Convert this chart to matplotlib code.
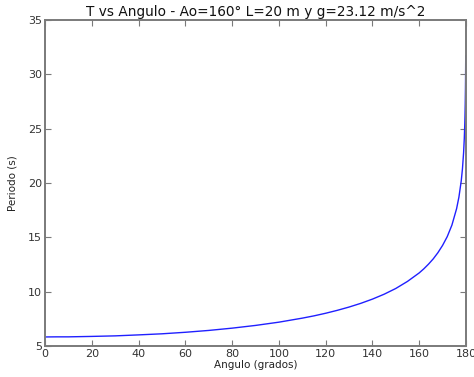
import matplotlib
matplotlib.use("Agg")
import matplotlib.pyplot as plt

# --- DATA ---
angulo = [0, 5, 10, 15, 20, 30, 40, 50, 60, 70, 80, 90, 100, 110, 115, 120,
          125, 130, 135, 140, 145, 150, 155, 160, 162, 164, 166, 168, 170,
          172, 174, 176, 177, 178, 178.5, 179, 179.3, 179.5, 179.6, 179.7,
          179.8, 179.85, 179.9, 179.91]
periodo = [5.84, 5.85, 5.85, 5.87, 5.89, 5.94, 6.03, 6.13, 6.27, 6.44, 6.65,
           6.90, 7.20, 7.57, 7.78, 8.02, 8.29, 8.59, 8.93, 9.32, 9.77, 10.30,
           10.95, 11.73, 12.11, 12.54, 13.02, 13.59, 14.26, 15.07, 16.13,
           17.64, 18.71, 20.22, 21.29, 22.80, 24.12, 25.38, 26.21, 27.28,
           28.79, 29.86, 31.36, 31.70]
x_ticks = [0, 20, 40, 60, 80, 100, 120, 140, 160, 180]
y_ticks = [5, 10, 15, 20, 25, 30, 35]

fig = plt.figure(figsize=(4.74, 3.77), dpi=100)
ax = fig.add_axes([0.095, 0.082, 0.888, 0.865])

ax.plot(angulo, periodo, color='#2020ff', linewidth=1.0)

ax.set_xlim(0, 180)
ax.set_ylim(5, 35)
ax.set_xticks(x_ticks)
ax.set_yticks(y_ticks)

for s in ax.spines.values():
    s.set_color('#7a7a7a')
    s.set_linewidth(1.4)
ax.tick_params(direction='in', top=True, right=True, length=4, width=0.8,
               color='#7a7a7a', labelsize=8, labelcolor='#333333', pad=2)

ax.set_xlabel('Angulo (grados)', fontsize=7.5, color='#222222', labelpad=1)
ax.set_ylabel('Periodo (s)', fontsize=7.5, color='#222222', labelpad=8)
ax.set_title('T vs Angulo - Ao=160\u00b0 L=20 m y g=23.12 m/s^2',
             fontsize=9.8, color='#111111', pad=3)

fig.savefig('out.png', dpi=100)
